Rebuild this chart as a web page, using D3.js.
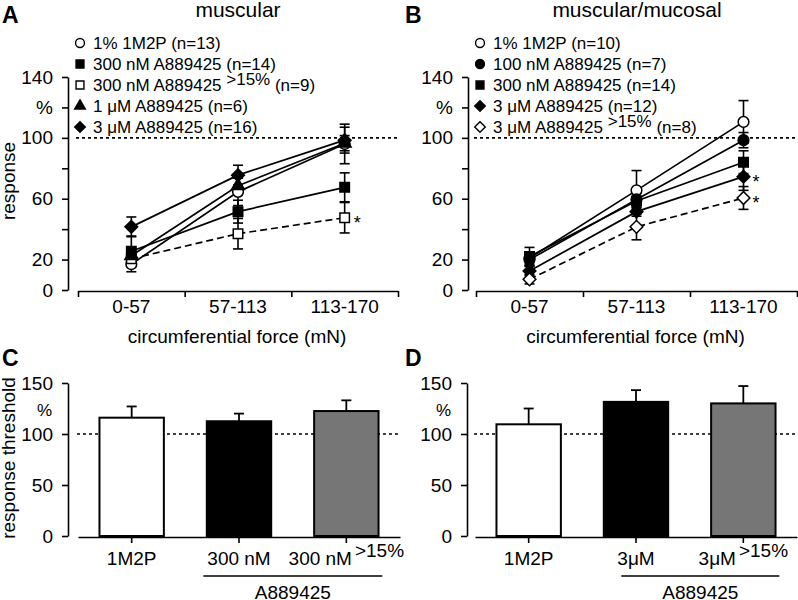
<!DOCTYPE html>
<html><head><meta charset="utf-8">
<script src="https://cdn.jsdelivr.net/npm/d3@7"></script>
<style>
body{margin:0;background:#fff}
svg{display:block}
text{font-family:"Liberation Sans",Arial,sans-serif;fill:#000}
</style>
</head><body><svg id="c" width="798" height="600"></svg>
<script>
// ---------------- DATA ----------------
const forceCats = ["0-57", "57-113", "113-170"];
const respTicks = [0, 20, 40, 60, 80, 100, 120, 140];
const respTickLabels = ["0", "20", "", "60", "", "100", "%", "140"];
const thrTicks = [0, 50, 100, 150];

// Panel A (muscular)
const aLabels = ["1% 1M2P", "300 nM A889425", "300 nM A889425", "1 \u03BCM A889425", "3 \u03BCM A889425"];
const aSups = ["", "", ">15%", "", ""];
const aNs = ["(n=13)", "(n=14)", "(n=9)", "(n=6)", "(n=16)"];
const aSymbols = ["circle", "square", "square", "triangle", "diamond"];
const aOpen = [true, false, true, false, false];
const aDashed = [false, false, true, false, false];
const aStar = [false, false, true, false, false];
const aMean1M2P = [17, 64.5, 96];
const aSem1M2P = [5, 9, 13];
const aMean300 = [25.5, 51.5, 67.5];
const aSem300 = [10, 7.5, 9.5];
const aMean300hi = [20.5, 37, 47.5];
const aSem300hi = [4, 10, 10];
const aMean1uM = [22.5, 68.5, 96.5];
const aSem1uM = [4, 6, 5];
const aMean3uM = [41.5, 75.5, 98.5];
const aSem3uM = [6.5, 6.5, 8.5];

// Panel B (muscular/mucosal)
const bLabels = ["1% 1M2P", "100 nM A889425", "300 nM A889425", "3 \u03BCM A889425", "3 \u03BCM A889425"];
const bSups = ["", "", "", "", ">15%"];
const bNs = ["(n=10)", "(n=7)", "(n=14)", "(n=12)", "(n=8)"];
const bSymbols = ["circle", "circle", "square", "diamond", "diamond"];
const bOpen = [true, false, false, false, true];
const bDashed = [false, false, false, false, true];
const bStar = [false, false, false, true, true];
const bMean1M2P = [21, 65.5, 110.5];
const bSem1M2P = [4, 13, 14];
const bMean100 = [20, 59.5, 98.5];
const bSem100 = [4, 5, 5];
const bMean300 = [22, 58.5, 84];
const bSem300 = [6, 5, 7.5];
const bMean3uM = [12.5, 51.5, 74.5];
const bSem3uM = [3, 3, 9];
const bMean3uMhi = [7, 41.5, 60.5];
const bSem3uMhi = [3, 8.5, 7.5];

// Panel C (threshold, muscular)
const cCats = ["1M2P", "300 nM", "300 nM hi"];
const cLabels = ["1M2P", "300 nM", "300 nM"];
const cSups = ["", "", ">15%"];
const cMeans = [116, 112.5, 122.5];
const cSems = [11, 7.5, 10.5];
// Panel D (threshold, muscular/mucosal)
const dCats = ["1M2P", "3uM", "3uM hi"];
const dLabels = ["1M2P", "3\u03BCM", "3\u03BCM"];
const dSups = ["", "", ">15%"];
const dMeans = [109.5, 131.5, 130];
const dSems = [15.5, 11.5, 17];
const barFills = ["#ffffff", "#000000", "#767676"];
const groupLabel = "A889425";

// ---------------- DRAW ----------------
const svg = d3.select("#c");
const yResp = d3.scaleLinear().domain([0, 140]).range([290, 77]);
const yThr = d3.scaleLinear().domain([0, 150]).range([536, 383]);

function symPath(type, size) {
  if (type === "circle") return d3.symbol(d3.symbolCircle, size)();
  if (type === "square") return d3.symbol(d3.symbolSquare, size)();
  if (type === "triangle") return d3.symbol(d3.symbolTriangle, size * 0.8)();
  return d3.symbol(d3.symbolSquare, size * 0.9)();
}
function symRot(type) { return type === "diamond" ? " rotate(45)" : ""; }

function styleAxis(g) {
  g.selectAll("path.domain").attr("stroke", "#000").attr("stroke-width", 1.6);
  g.selectAll(".tick line").attr("stroke", "#000").attr("stroke-width", 1.6);
  g.selectAll(".tick text").attr("font-size", 19).attr("fill", "#000")
    .attr("font-family", '"Liberation Sans",Arial,sans-serif');
}

function linePanel(cfg) {
  const g = svg.append("g");
  g.append("text").attr("x", cfg.titleX).attr("y", 17).attr("text-anchor", "middle")
    .attr("font-size", 21).text(cfg.title);
  g.append("text").attr("x", cfg.letterX).attr("y", 23).attr("font-size", 23)
    .attr("font-weight", "bold").text(cfg.letter);

  // y axis
  const ya = g.append("g").attr("transform", `translate(${cfg.axisX},0)`)
    .call(d3.axisLeft(yResp).tickValues(respTicks).tickFormat((d, i) => respTickLabels[i])
      .tickSize(6).tickPadding(9).tickSizeOuter(0));
  styleAxis(ya);

  // reference dotted line
  g.append("line").attr("x1", cfg.xRange[0] - 2).attr("x2", cfg.dotEnd)
    .attr("y1", yResp(100)).attr("y2", yResp(100))
    .attr("stroke", "#000").attr("stroke-width", 1.6).attr("stroke-dasharray", "3,3");

  // x axis with boundary ticks
  const xb = d3.scaleLinear().domain([0, forceCats.length]).range(cfg.xRange);
  const xa = g.append("g").attr("transform", "translate(0,291)")
    .call(d3.axisBottom(xb).tickValues(d3.range(forceCats.length + 1)).tickFormat("")
      .tickSize(6).tickSizeOuter(0));
  styleAxis(xa);
  const x = d3.scaleBand().domain(forceCats).range(cfg.xRange).padding(0);
  const cx = c => x(c) + x.bandwidth() / 2;
  g.selectAll("text.xl").data(forceCats).join("text").attr("class", "xl")
    .attr("x", cx).attr("y", 313).attr("text-anchor", "middle").attr("font-size", 19).text(d => d);
  g.append("text").attr("x", (cfg.xRange[0] + cfg.xRange[1]) / 2 - 1).attr("y", 343)
    .attr("text-anchor", "middle").attr("font-size", 19).text("circumferential force (mN)");

  if (cfg.ylabel) {
    g.append("text").attr("transform", "translate(15,181) rotate(-90)")
      .attr("text-anchor", "middle").attr("font-size", 19).text(cfg.ylabel);
  }

  const ser = cfg.series;
  // error bars
  ser.forEach(s => {
    s.mean.forEach((m, j) => {
      const px = cx(forceCats[j]);
      const y1 = yResp(m - s.sem[j]), y2 = yResp(m + s.sem[j]);
      g.append("line").attr("x1", px).attr("x2", px).attr("y1", y1).attr("y2", y2)
        .attr("stroke", "#000").attr("stroke-width", 1.6);
      [y1, y2].forEach(yy => g.append("line").attr("x1", px - 5).attr("x2", px + 5)
        .attr("y1", yy).attr("y2", yy).attr("stroke", "#000").attr("stroke-width", 1.6));
    });
  });
  // lines
  const line = d3.line().x((d, j) => cx(forceCats[j])).y(d => yResp(d));
  ser.forEach(s => {
    g.append("path").attr("d", line(s.mean)).attr("fill", "none").attr("stroke", "#000")
      .attr("stroke-width", 1.7).attr("stroke-dasharray", s.dashed ? "7,4" : null);
  });
  // markers
  ser.forEach(s => {
    s.mean.forEach((m, j) => {
      g.append("path").attr("d", symPath(s.sym, 90))
        .attr("transform", `translate(${cx(forceCats[j])},${yResp(m)})` + symRot(s.sym))
        .attr("fill", s.open ? "#fff" : "#000").attr("stroke", "#000").attr("stroke-width", 1.5);
    });
    if (s.star) {
      const j = forceCats.length - 1;
      g.append("text").attr("x", cx(forceCats[j]) + 9).attr("y", yResp(s.mean[j]) + 11)
        .attr("font-size", 18).text("*");
    }
  });

  // legend
  ser.forEach((s, i) => {
    const ly = 43 + i * 21;
    g.append("path").attr("d", symPath(s.sym, 62))
      .attr("transform", `translate(${cfg.legendX},${ly})` + symRot(s.sym))
      .attr("fill", s.open ? "#fff" : "#000").attr("stroke", "#000").attr("stroke-width", 1.4);
    const t = g.append("text").attr("x", cfg.legendX + 13).attr("y", ly + 6).attr("font-size", 17);
    t.append("tspan").text(s.label + " ");
    if (s.sup) {
      t.append("tspan").attr("dy", -6).text(s.sup);
      t.append("tspan").attr("dy", 6).text(" " + s.n);
    } else {
      t.append("tspan").text(s.n);
    }
  });
}

function mkSeries(labels, sups, ns, syms, open, dashed, star, means, sems) {
  return labels.map((l, i) => ({label: l, sup: sups[i], n: ns[i], sym: syms[i], open: open[i],
    dashed: dashed[i], star: star[i], mean: means[i], sem: sems[i]}));
}

linePanel({
  title: "muscular", titleX: 238, letter: "A", letterX: 2, axisX: 68, xRange: [78, 398], dotEnd: 400,
  legendX: 80, ylabel: "response",
  series: mkSeries(aLabels, aSups, aNs, aSymbols, aOpen, aDashed, aStar,
    [aMean1M2P, aMean300, aMean300hi, aMean1uM, aMean3uM],
    [aSem1M2P, aSem300, aSem300hi, aSem1uM, aSem3uM])
});
linePanel({
  title: "muscular/mucosal", titleX: 637, letter: "B", letterX: 405, axisX: 468, xRange: [476, 797], dotEnd: 798,
  legendX: 480, ylabel: null,
  series: mkSeries(bLabels, bSups, bNs, bSymbols, bOpen, bDashed, bStar,
    [bMean1M2P, bMean100, bMean300, bMean3uM, bMean3uMhi],
    [bSem1M2P, bSem100, bSem300, bSem3uM, bSem3uMhi])
});

function barPanel(cfg) {
  const g = svg.append("g");
  g.append("text").attr("x", cfg.letterX).attr("y", 366).attr("font-size", 23)
    .attr("font-weight", "bold").text(cfg.letter);
  const ya = g.append("g").attr("transform", `translate(${cfg.axisX},0)`)
    .call(d3.axisLeft(yThr).tickValues(thrTicks).tickSize(6).tickPadding(9).tickSizeOuter(0));
  styleAxis(ya);
  g.append("text").attr("x", cfg.axisX - 16).attr("y", yThr(125) + 7).attr("text-anchor", "end")
    .attr("font-size", 17).text("%");
  if (cfg.ylabel) {
    g.append("text").attr("transform", "translate(15,458) rotate(-90)")
      .attr("text-anchor", "middle").attr("font-size", 19).text(cfg.ylabel);
  }
  g.append("line").attr("x1", cfg.xRange[0] - 1).attr("x2", cfg.dotEnd)
    .attr("y1", yThr(100)).attr("y2", yThr(100))
    .attr("stroke", "#000").attr("stroke-width", 1.6).attr("stroke-dasharray", "3,3");

  const x = d3.scaleBand().domain(cfg.cats).range(cfg.xRange).padding(0);
  const bw = x.bandwidth() * 0.6;
  const cx = c => x(c) + x.bandwidth() / 2;
  const xa = g.append("g").attr("transform", "translate(0,537)")
    .call(d3.axisBottom(x).tickFormat("").tickSize(6).tickSizeOuter(0));
  styleAxis(xa);

  cfg.cats.forEach((c, i) => {
    const m = cfg.means[i], s = cfg.sems[i];
    const px = cx(c);
    g.append("line").attr("x1", px).attr("x2", px).attr("y1", yThr(m)).attr("y2", yThr(m + s))
      .attr("stroke", "#000").attr("stroke-width", 1.8);
    g.append("line").attr("x1", px - 5).attr("x2", px + 5).attr("y1", yThr(m + s)).attr("y2", yThr(m + s))
      .attr("stroke", "#000").attr("stroke-width", 1.8);
    g.append("rect").attr("x", px - bw / 2).attr("y", yThr(m)).attr("width", bw)
      .attr("height", yThr(0) - yThr(m)).attr("fill", barFills[i])
      .attr("stroke", "#000").attr("stroke-width", 2);
    const t = g.append("text").attr("x", px).attr("y", 565).attr("text-anchor", "middle").attr("font-size", 19);
    t.append("tspan").text(cfg.labels[i]);
    if (cfg.sups[i]) t.append("tspan").attr("dx", 3).attr("dy", -8).text(cfg.sups[i]);
  });
  // bracket under the A889425 groups
  const tmp = g.append("text").attr("font-size", 19).text(cfg.labels[1]);
  const w2 = tmp.node().getComputedTextLength();
  tmp.remove();
  const lx1 = cx(cfg.cats[1]) - w2 / 2 + cfg.bracketPad;
  const lx2 = cx(cfg.cats[2]) + 36;
  g.append("line").attr("x1", lx1).attr("x2", lx2).attr("y1", 576).attr("y2", 576)
    .attr("stroke", "#000").attr("stroke-width", 1.6);
  g.append("text").attr("x", (lx1 + lx2) / 2).attr("y", 599).attr("text-anchor", "middle")
    .attr("font-size", 19).text(groupLabel);
}

barPanel({letter: "C", letterX: 2, axisX: 68, xRange: [78, 400], dotEnd: 400, cats: cCats,
  labels: cLabels, sups: cSups, means: cMeans, sems: cSems, ylabel: "response threshold", bracketPad: -4});
barPanel({letter: "D", letterX: 405, axisX: 467, xRange: [475, 797], dotEnd: 798, cats: dCats,
  labels: dLabels, sups: dSups, means: dMeans, sems: dSems, ylabel: null, bracketPad: 4});
</script></body></html>
